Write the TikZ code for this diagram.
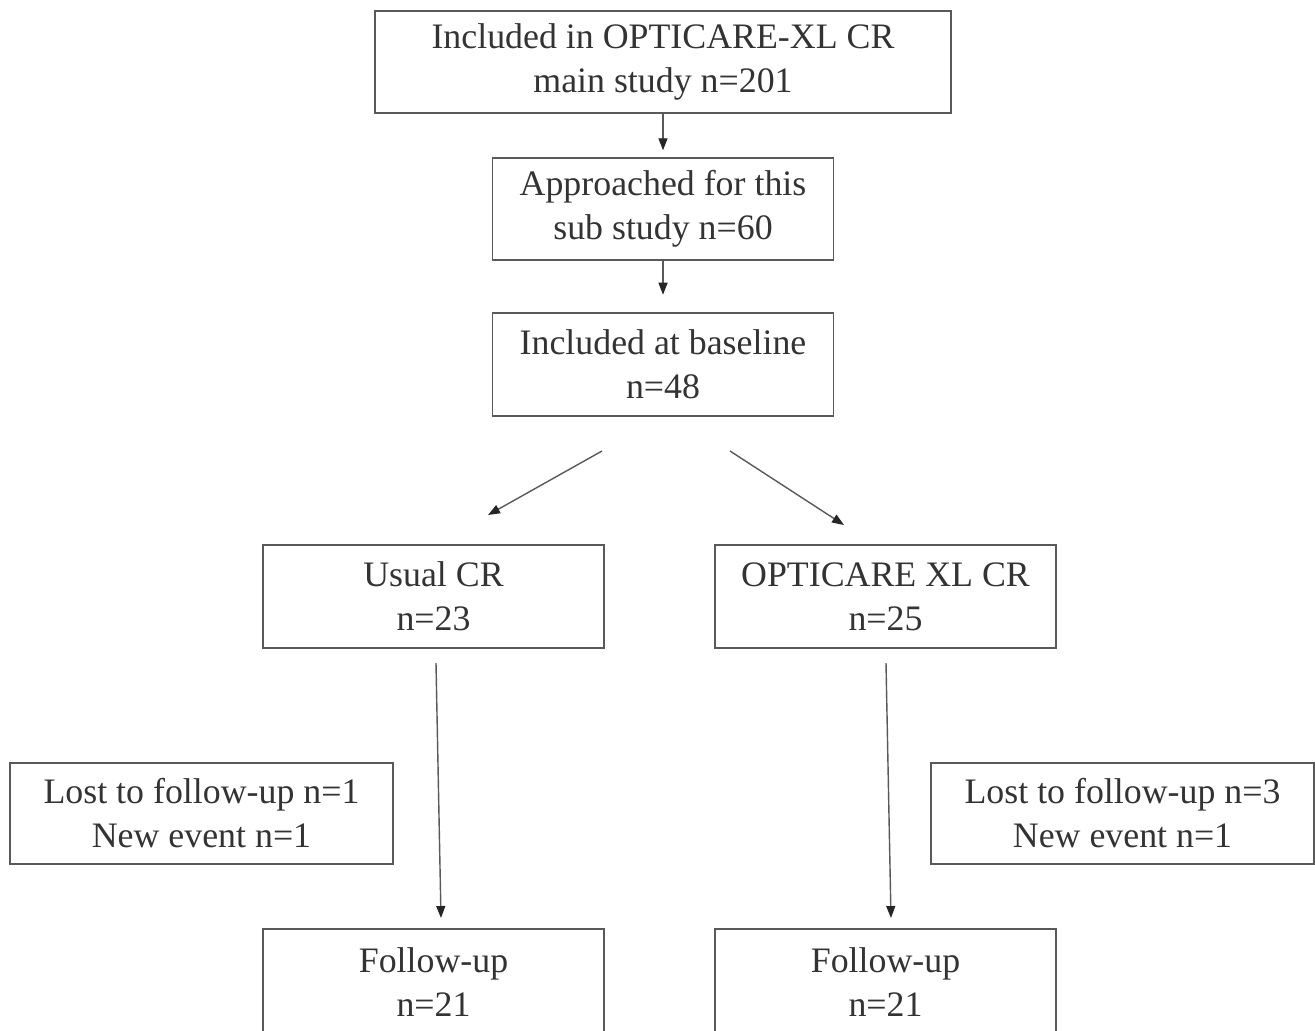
\documentclass[tikz,border=0pt]{standalone}
\usepackage{fontspec}
\setmainfont{Liberation Serif}
\usetikzlibrary{arrows.meta}

\tikzset{
  box/.style = {draw=black!65, line width=0.8pt, text=black!80, align=center,
                inner sep=0pt, font=\fontsize{20.4}{25}\selectfont},
  link/.style = {draw=black!65, line width=0.8pt,
                 -{Triangle[length=0.24cm,width=0.18cm,color=black!85,fill=black!85]}}
}

\begin{document}
\begin{tikzpicture}[x=0.02cm, y=-0.02cm]
    \useasboundingbox (0,0) rectangle (1315,1031);
    \node[box, minimum width=576*0.02cm, minimum height=102*0.02cm] (main) at (663,62)
        {Included in OPTICARE-XL CR\\main study n=201};
    \node[box, minimum width=341*0.02cm, minimum height=102*0.02cm] (approach) at (663,209)
        {Approached for this\\sub study n=60};
    \node[box, minimum width=341*0.02cm, minimum height=103*0.02cm] (baseline) at (663,364.5)
        {Included at baseline\\n=48};
    \node[box, minimum width=341*0.02cm, minimum height=103*0.02cm] (usual) at (433.5,596.5)
        {Usual CR\\n=23};
    \node[box, minimum width=341*0.02cm, minimum height=103*0.02cm] (opticare) at (885.5,596.5)
        {OPTICARE XL CR\\n=25};
    \node[box, minimum width=383*0.02cm, minimum height=101*0.02cm] (lostusual) at (201.5,813.5)
        {Lost to follow-up n=1\\New event n=1};
    \node[box, minimum width=383*0.02cm, minimum height=101*0.02cm] (lostopti) at (1122.5,813.5)
        {Lost to follow-up n=3\\New event n=1};
    \node[box, minimum width=341*0.02cm, minimum height=106*0.02cm] (fuusual) at (433.5,982)
        {Follow-up\\n=21};
    \node[box, minimum width=341*0.02cm, minimum height=106*0.02cm] (fuopti) at (885.5,982)
        {Follow-up\\n=21};

    \coordinate (splitl) at (602,451);
    \coordinate (splitr) at (730,451);
    \coordinate (tousual) at (488,515);
    \coordinate (toopti) at (844,525);
    \coordinate (downl) at (436,663);
    \coordinate (downr) at (886,663);
    \coordinate (endl) at (441,918);
    \coordinate (endr) at (891,918);

    \draw[link, shorten >=4] (main) -- (approach);
    \draw[link, shorten >=10] (approach) -- (baseline);
    \draw[link] (splitl) -- (tousual);
    \draw[link] (splitr) -- (toopti);
    \draw[link] (downl) -- (endl);
    \draw[link] (downr) -- (endr);
\end{tikzpicture}
\end{document}
